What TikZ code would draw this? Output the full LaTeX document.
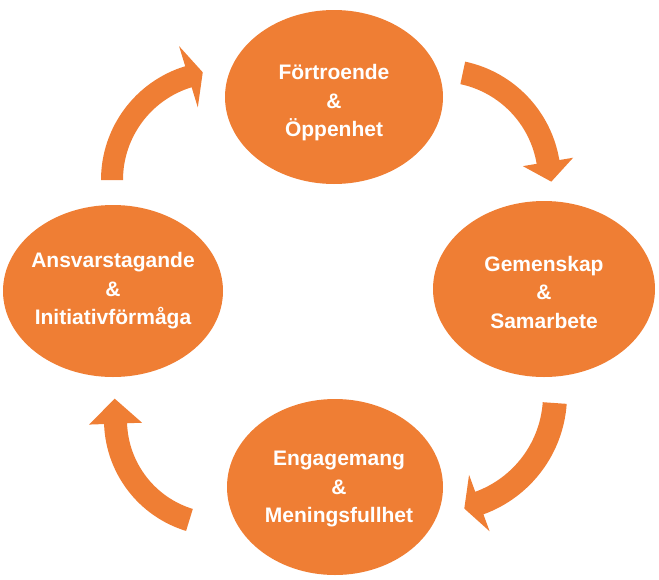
\documentclass[tikz,border=0pt]{standalone}
\usepackage{fontspec}
\setmainfont{Liberation Sans}
\usetikzlibrary{shapes.geometric,calc}
\definecolor{cycorange}{RGB}{239,126,52}
\tikzset{
  bubble/.style={ellipse, fill=cycorange, inner sep=0pt},
  bubbletext/.style={inner sep=0pt, text=white, align=center,
    font=\bfseries\fontsize{21}{28.5}\selectfont},
  arrowfill/.style={fill=cycorange}
}
\newcommand{\cyclearrow}[7]{%
  \fill[arrowfill] ($(#1)+(#4:#3)$) arc[start angle=#4, end angle=#5, radius=#3]
    -- ($(#1)+(#5:{#3+#6})$)
    -- ($(#1)+(#5:{(#2+#3)/2})+({#5+90}:#7)$)
    -- ($(#1)+(#5:{#2-#6})$)
    -- ($(#1)+(#5:#2)$) arc[start angle=#5, end angle=#4, radius=#2] -- cycle;}
\begin{document}
\begin{tikzpicture}[x=1pt,y=-1pt]
\useasboundingbox (0,0) rectangle (659,579);
\node[bubble, minimum width=218pt, minimum height=174pt] (trust) at (334,97) {};
\node[bubble, minimum width=222pt, minimum height=176pt] (community) at (544,289) {};
\node[bubble, minimum width=216pt, minimum height=176pt] (engage) at (335,487) {};
\node[bubble, minimum width=220pt, minimum height=172pt] (respons) at (113,291) {};
\node[bubbletext] (trusttext) at ([yshift=-6pt]trust.center) {Förtroende\\\&\\Öppenhet};
\node[bubbletext] (communitytext) at ([yshift=-3pt]community.center) {Gemenskap\\\&\\Samarbete};
\node[bubbletext] (engagetext) at ([xshift=4pt,yshift=-2pt]engage.center) {Engagemang\\\&\\Meningsfullhet};
\node[bubbletext] (responstext) at (respons.center) {Ansvarstagande\\\&\\Initiativförmåga};
\coordinate (c1) at (440,180);
\coordinate (c2) at (440,395);
\coordinate (c3) at (220,420);
\coordinate (c4) at (220,180);
\cyclearrow{c1}{98}{121}{-78}{-9.5}{14}{20}
\cyclearrow{c2}{103}{127}{4}{70}{18}{16}
\cyclearrow{c3}{93}{116}{107}{178}{15}{25}
\cyclearrow{c4}{97}{119}{180}{253}{21}{15}
\end{tikzpicture}
\end{document}
